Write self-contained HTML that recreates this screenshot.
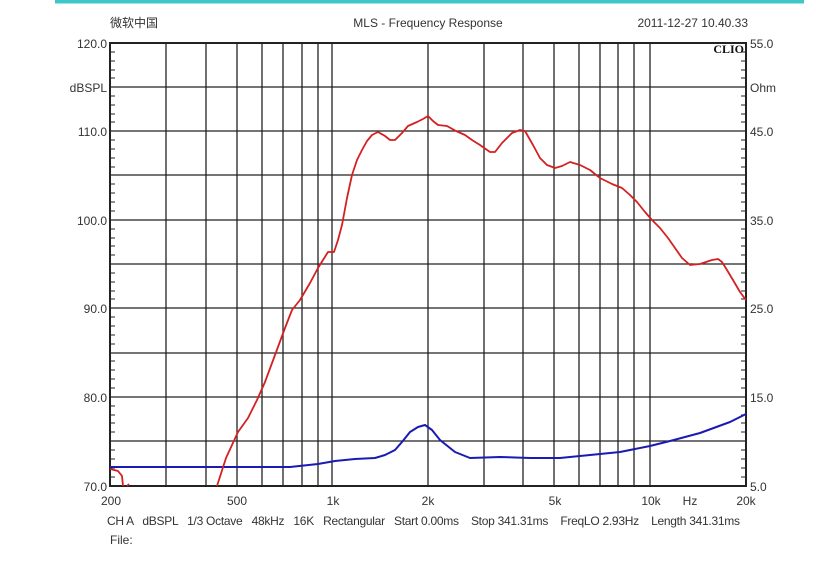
<!DOCTYPE html>
<html><head><meta charset="utf-8"><style>
body{margin:0;background:#fff;}
svg text{font-family:"Liberation Sans","Noto Sans CJK SC",sans-serif;font-size:12px;fill:#333;}
</style></head><body>
<svg width="816" height="559" xmlns="http://www.w3.org/2000/svg">
<rect x="55" y="0" width="749" height="3.5" fill="#3cc8c8"/>
<text x="110" y="27">微软中国</text>
<text x="428" y="27" text-anchor="middle">MLS - Frequency Response</text>
<text x="748" y="27" text-anchor="end">2011-12-27 10.40.33</text>
<g stroke="#222" stroke-width="1.3" fill="none">
<path d="M110 87H746M110 131H746M110 175H746M110 220H746M110 264H746M110 308H746M110 353H746M110 397H746M110 441H746"/>
<path d="M166 43V486M206 43V486M237 43V486M262 43V486M283 43V486M302 43V486M318 43V486M332 43V486M428 43V486M484 43V486M523 43V486M554 43V486M579 43V486M600 43V486M618 43V486M634 43V486M650 43V486"/>
<rect x="110" y="43" width="636" height="443" stroke-width="2"/>
</g>
<g stroke="#222" stroke-width="1">
<path d="M110 52h5M110 61h5M110 70h5M110 78h5M110 96h5M110 105h5M110 114h5M110 122h5M110 140h5M110 149h5M110 158h5M110 167h5M110 184h5M110 193h5M110 202h5M110 211h5M110 229h5M110 238h5M110 246h5M110 255h5M110 273h5M110 282h5M110 291h5M110 299h5M110 317h5M110 326h5M110 335h5M110 344h5M110 361h5M110 370h5M110 379h5M110 388h5M110 406h5M110 415h5M110 423h5M110 432h5M110 450h5M110 459h5M110 468h5M110 477h5"/>
<path d="M746 52h-5M746 61h-5M746 70h-5M746 78h-5M746 96h-5M746 105h-5M746 114h-5M746 122h-5M746 140h-5M746 149h-5M746 158h-5M746 167h-5M746 184h-5M746 193h-5M746 202h-5M746 211h-5M746 229h-5M746 238h-5M746 246h-5M746 255h-5M746 273h-5M746 282h-5M746 291h-5M746 299h-5M746 317h-5M746 326h-5M746 335h-5M746 344h-5M746 361h-5M746 370h-5M746 379h-5M746 388h-5M746 406h-5M746 415h-5M746 423h-5M746 432h-5M746 450h-5M746 459h-5M746 468h-5M746 477h-5"/>
</g>
<g text-anchor="end">
<text x="107" y="48">120.0</text><text x="107" y="92">dBSPL</text><text x="107" y="136">110.0</text>
<text x="107" y="225">100.0</text><text x="107" y="313">90.0</text><text x="107" y="402">80.0</text><text x="107" y="491">70.0</text>
</g>
<g>
<text x="750" y="48">55.0</text><text x="750" y="92">Ohm</text><text x="750" y="136">45.0</text>
<text x="750" y="225">35.0</text><text x="750" y="313">25.0</text><text x="750" y="402">15.0</text><text x="750" y="491">5.0</text>
</g>
<text x="744" y="53" text-anchor="end" style="font-family:'Liberation Serif',serif;font-weight:bold;font-size:12px;fill:#111">CLIO</text>
<g text-anchor="middle">
<text x="111" y="505">200</text><text x="237" y="505">500</text><text x="333" y="505">1k</text><text x="428" y="505">2k</text>
<text x="555" y="505">5k</text><text x="651" y="505">10k</text><text x="690" y="505">Hz</text><text x="746" y="505">20k</text>
</g>
<text x="107" y="525" textLength="633" lengthAdjust="spacing" xml:space="preserve">CH A   dBSPL   1/3 Octave   48kHz   16K   Rectangular   Start 0.00ms    Stop 341.31ms    FreqLO 2.93Hz    Length 341.31ms</text>
<text x="110" y="544">File:</text>
<polyline fill="none" stroke="#1a1ab4" stroke-width="2" stroke-linejoin="round" points="110,467 290,467 318,464 335,461 355,459 375,458 385,455 395,450 402,442 410,432 418,427 425,425 432,430 440,440 455,452 470,458 500,457 530,458 560,458 590,455 620,452 650,446 670,441 700,433 730,422 746,414"/>
<polyline fill="none" stroke="#d42020" stroke-width="1.8" stroke-linejoin="round" points="110,469 118,471 122,476 123,486"/>
<polyline fill="none" stroke="#d42020" stroke-width="1.8" points="127,486 129,484"/>
<polyline fill="none" stroke="#d42020" stroke-width="1.8" stroke-linejoin="round" points="217,486 226,458 238,432 248,418 257,400 265,382 275,355 285,328 292,310 300,300 310,283 318,268 328,252 334,252 338,240 342,225 347,198 352,175 357,160 362,150 367,141 372,135 378,132 385,136 390,140 395,140 402,133 408,126 417,122 423,119 428,116 433,121 438,125 447,126 456,131 465,135 472,140 480,145 490,152 495,152 502,143 512,133 520,130 525,131 533,145 540,158 547,165 555,168 562,166 570,162 580,165 590,170 600,178 612,184 622,188 630,195 637,202 645,212 652,220 660,228 668,238 675,248 682,258 690,265 700,264 712,260 718,259 722,262 727,270 733,280 740,292 746,300"/>
</svg>
</body></html>
